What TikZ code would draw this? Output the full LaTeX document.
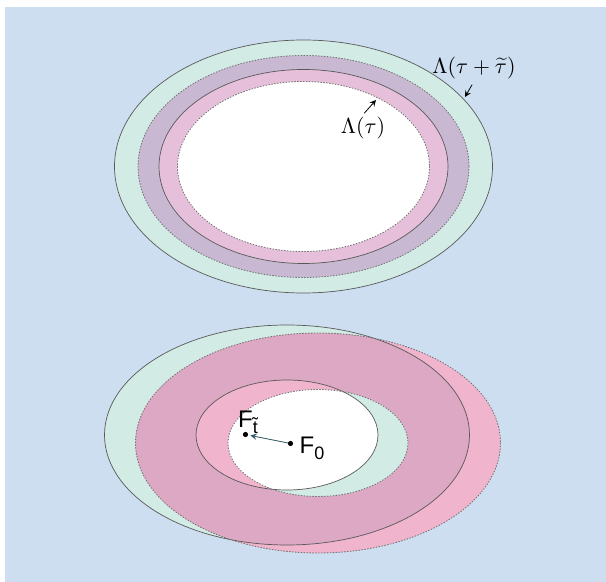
\documentclass[tikz,border=0pt]{standalone}
\usepackage{fontspec}
\setsansfont{Liberation Sans}
\definecolor{bgblue}{RGB}{205,222,240}
\definecolor{mint}{RGB}{210,235,228}
\definecolor{lilac}{RGB}{200,184,210}
\definecolor{rose}{RGB}{230,192,218}
\definecolor{hotrose}{RGB}{240,180,204}
\definecolor{mauve}{RGB}{220,168,196}
\definecolor{arrowteal}{RGB}{50,90,100}
\begin{document}
\begin{tikzpicture}[x=0.5pt, y=-0.5pt, line join=round, line cap=round, >=stealth,
		solidrim/.style={draw=black!65, line width=0.35pt},
		dotrim/.style={draw=black!55, densely dotted, line width=0.45pt},
		lab/.style={font=\fontsize{11}{13}\selectfont, inner sep=1pt},
		flab/.style={font=\sffamily\fontsize{12}{14}\selectfont, inner sep=0pt},
		fdot/.style={circle, fill=black, inner sep=0pt, minimum size=2.6pt}]
		\useasboundingbox (0,0) rectangle (606,582);
		\fill[bgblue] (5,7) rectangle (606,582);
		% upper picture: rings with one centre
		\coordinate (U) at (303.5,166.5);
		\fill[mint] (U) ellipse (189 and 126.5);
		\fill[lilac] (U) ellipse (165.5 and 111);
		\fill[rose] (U) ellipse (144.5 and 97);
		\fill[white] (U) ellipse (126 and 85);
		\draw[solidrim] (U) ellipse (189 and 126.5);
		\draw[solidrim] (U) ellipse (144.5 and 97);
		\draw[dotrim] (U) ellipse (165.5 and 111);
		\draw[dotrim] (U) ellipse (126 and 85);
		\node[lab] (lamtt) at (474,68) {$\Lambda(\tau + \widetilde{\tau})$};
		\coordinate (lamttTip) at (465,97);
		\draw[->, line width=0.4pt, shorten <=2pt] (lamtt.south) -- (lamttTip);
		\node[lab] (lamt) at (363,128) {$\Lambda(\tau)$};
		\coordinate (lamtTip) at (376,100);
		\draw[->, line width=0.4pt, shorten <=1pt] (lamt.north) -- (lamtTip);
		% lower picture: the two rings moved apart
		\def\ro{182.5} \def\rO{110}
		\coordinate (A) at (287,435);
		\coordinate (B) at (318,443);
		\fill[mint] (A) ellipse [x radius=\ro, y radius=\rO];
		\fill[hotrose] (B) ellipse [x radius=\ro, y radius=\rO];
		\begin{scope}
			\clip (A) ellipse [x radius=\ro, y radius=\rO];
			\fill[mauve] (B) ellipse [x radius=\ro, y radius=\rO];
		\end{scope}
		\fill[hotrose] (A) ellipse (91 and 55);
		\fill[mint] (B) ellipse (90 and 53.5);
		\begin{scope}
			\clip (A) ellipse (91 and 55);
			\fill[white] (B) ellipse (90 and 53.5);
		\end{scope}
		\draw[solidrim] (A) ellipse [x radius=\ro, y radius=\rO];
		\draw[solidrim] (A) ellipse (91 and 55);
		\draw[dotrim] (B) ellipse [x radius=\ro, y radius=\rO];
		\draw[dotrim] (B) ellipse (90 and 53.5);
		\node[fdot] (ft) at (245.5,434.5) {};
		\node[fdot] (f0) at (290.5,443.5) {};
		\node[flab] (ftlab) at (248,422) {F\raisebox{-0.45ex}{\small\~{t}}};
		\node[flab] (f0lab) at (312,448) {F\raisebox{-0.45ex}{\small 0}};
		\draw[->, arrowteal, line width=0.4pt, shorten >=1pt] (f0) -- (ft);
\end{tikzpicture}
\end{document}
